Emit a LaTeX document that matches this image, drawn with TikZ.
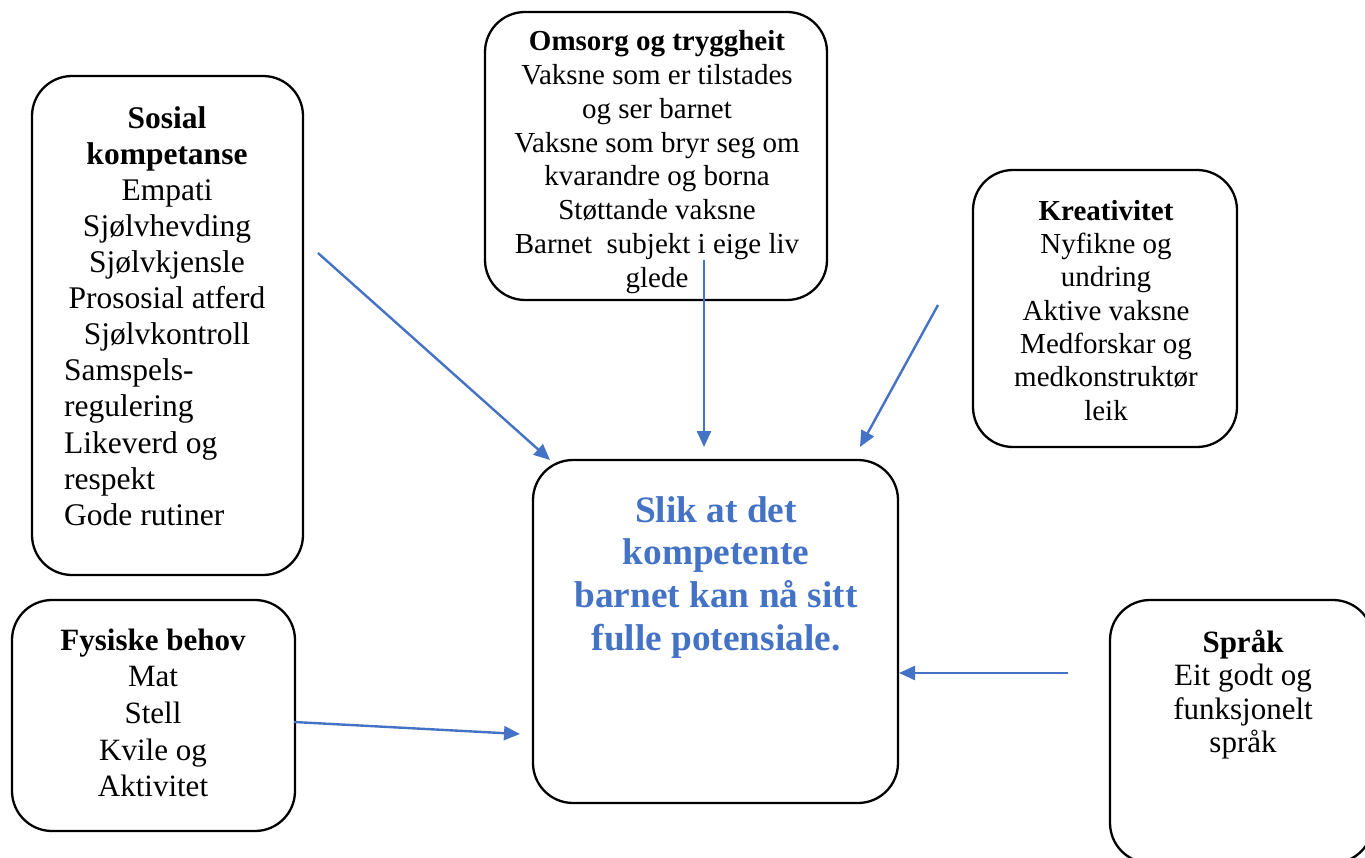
\documentclass[tikz,border=0pt]{standalone}
\usepackage{fontspec}
\setmainfont{Liberation Serif}
\usetikzlibrary{arrows.meta}
\definecolor{arrowblue}{HTML}{4472C4}
\tikzset{
  box/.style={draw=black, line width=2.3pt, rounded corners=40pt},
  txt/.style={inner sep=0pt, anchor=north, align=center},
  txtl/.style={inner sep=0pt, anchor=north west, align=left},
  arr/.style={draw=arrowblue, line width=2.4pt, -{Triangle[length=16pt,width=14pt]}}
}
\begin{document}
\begin{tikzpicture}[x=1pt,y=-1pt]
\clip (0,0) rectangle (1365,858);
\useasboundingbox (0,0) rectangle (1365,858);
\fill[white] (0,0) rectangle (1365,858);
% boxes
\draw[box] (32,76) rectangle (303,575);
\coordinate (sosialbox) at (167.5,325.5);
\draw[box] (485,12) rectangle (827,300);
\coordinate (omsorgbox) at (656,156);
\draw[box] (973,170) rectangle (1237,447);
\coordinate (kreabox) at (1105,308);
\draw[box] (1110,600) rectangle (1373,863);
\coordinate (sprakbox) at (1241,731);
\draw[box] (12,600) rectangle (295,831);
\coordinate (fysbox) at (153.5,715.5);
\draw[box] (533,460) rectangle (898,803);
\coordinate (centerbox) at (715.5,631.5);
% texts
\node[txt, font=\fontsize{31.5}{36.1}\selectfont] (sosial) at (167,102.7)
  {\strut\textbf{Sosial}\\\textbf{kompetanse}\\Empati\\Sjølvhevding\\Sjølvkjensle\\Prososial atferd\\Sjølvkontroll};
\node[txtl, font=\fontsize{31.5}{36.1}\selectfont] (sosial2) at (64,355.4)
  {\strut Samspels-\\regulering\\Likeverd og\\respekt\\Gode rutiner};
\node[txt, font=\fontsize{29}{33.8}\selectfont] (omsorg) at (657,26.8)
  {\strut\textbf{Omsorg og tryggheit}\\Vaksne som er tilstades\\og ser barnet\\Vaksne som bryr seg om\\kvarandre og borna\\Støttande vaksne\\Barnet\ \ subjekt i eige liv\\glede};
\node[txt, font=\fontsize{29}{33.3}\selectfont] (krea) at (1106,196.7)
  {\strut\textbf{Kreativitet}\\Nyfikne og\\undring\\Aktive vaksne\\Medforskar og\\medkonstruktør\\leik};
\node[txt, font=\fontsize{31}{33.5}\selectfont] (sprak) at (1243,628.5)
  {\strut\textbf{Språk}\\Eit godt og\\funksjonelt\\språk};
\node[txt, font=\fontsize{31}{36.7}\selectfont] (fys) at (153,624.3)
  {\strut\textbf{Fysiske behov}\\Mat\\Stell\\Kvile og\\Aktivitet};
\node[txt, font=\fontsize{37.3}{42.7}\selectfont\bfseries, text=arrowblue] (center) at (716,492.1)
  {\strut Slik at det\\kompetente\\barnet kan nå sitt\\fulle potensiale.};
% arrow endpoints
\coordinate (a1s) at (318,253); \coordinate (a1e) at (550,460);
\coordinate (a2s) at (704,260); \coordinate (a2e) at (704,447);
\coordinate (a3s) at (938,305); \coordinate (a3e) at (860,447);
\coordinate (a4s) at (1068,673); \coordinate (a4e) at (899,673);
\coordinate (a5s) at (294,722); \coordinate (a5e) at (520,734);
\draw[arr] (a1s) -- (a1e);
\draw[arr] (a2s) -- (a2e);
\draw[arr] (a3s) -- (a3e);
\draw[arr] (a4s) -- (a4e);
\draw[arr] (a5s) -- (a5e);
\end{tikzpicture}
\end{document}
